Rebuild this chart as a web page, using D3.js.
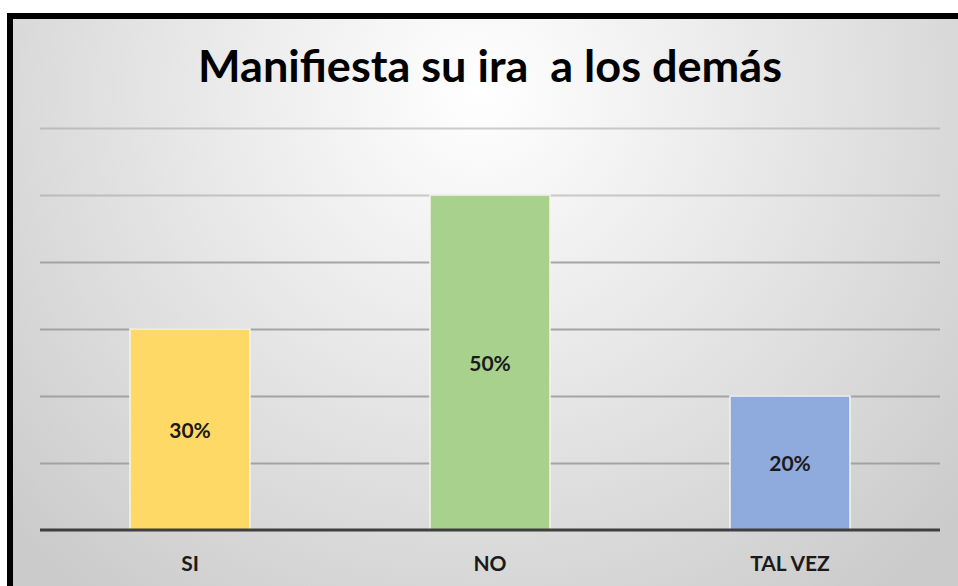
<!DOCTYPE html>
<html lang="es">
<head>
<meta charset="UTF-8">
<title>Manifiesta su ira a los demás</title>
<script src="https://cdn.jsdelivr.net/npm/d3@7"></script>
<style>
  body { margin: 0; background: #fff; }
  text { font-family: Lato, "Open Sans", sans-serif; font-weight: 700; }
</style>
</head>
<body>
<script>
  // datos
  const categories = ["SI", "NO", "TAL VEZ"];
  const values = [0.30, 0.50, 0.20];
  const colors = ["#FFD966", "#A9D18E", "#8FAADC"];
  const gridTicks = [0.1, 0.2, 0.3, 0.4, 0.5, 0.6];
  const title = "Manifiesta su ira  a los demás";

  const width = 958, height = 586;
  const marge = { top: 128, bottom: 56, left: 40, right: 18 };

  const svg = d3.select("body").append("svg")
    .attr("width", width)
    .attr("height", height);

  // fondo con degradado radial
  const defs = svg.append("defs");
  const grad = defs.append("radialGradient")
    .attr("id", "bg")
    .attr("gradientUnits", "userSpaceOnUse")
    .attr("cx", 480).attr("cy", 90).attr("r", 640);
  grad.append("stop").attr("offset", "0%").attr("stop-color", "#ffffff");
  grad.append("stop").attr("offset", "45%").attr("stop-color", "#e8e8e8");
  grad.append("stop").attr("offset", "100%").attr("stop-color", "#cbcbcb");

  svg.append("rect")
    .attr("x", 10).attr("y", 16)
    .attr("width", 980).attr("height", 620)
    .attr("fill", "url(#bg)")
    .attr("stroke", "#000")
    .attr("stroke-width", 6);

  const x = d3.scaleBand()
    .domain(categories)
    .range([marge.left, width - marge.right])
    .paddingInner(0.6)
    .paddingOuter(0.3);

  const y = d3.scaleLinear()
    .domain([0, 0.6])
    .range([height - marge.bottom, marge.top]);

  // líneas de cuadrícula
  svg.append("g")
    .selectAll("line")
    .data(gridTicks)
    .enter()
    .append("line")
    .attr("x1", marge.left)
    .attr("x2", width - marge.right)
    .attr("y1", d => Math.round(y(d)) + 0.5)
    .attr("y2", d => Math.round(y(d)) + 0.5)
    .attr("stroke", "#9c9c9c")
    .attr("stroke-opacity", d => d > 0.45 ? 0.5 : 0.9)
    .attr("stroke-width", 2);

  // barras
  svg.append("g")
    .selectAll("rect")
    .data(values)
    .enter()
    .append("rect")
    .attr("x", (d, i) => x(categories[i]))
    .attr("y", d => y(d))
    .attr("width", x.bandwidth())
    .attr("height", d => y(0) - y(d))
    .attr("fill", (d, i) => colors[i])
    .attr("stroke", "#f4f4f0")
    .attr("stroke-width", 1.5);

  // eje inferior
  svg.append("line")
    .attr("x1", marge.left)
    .attr("x2", width - marge.right)
    .attr("y1", y(0))
    .attr("y2", y(0))
    .attr("stroke", "#3f3f3f")
    .attr("stroke-width", 3);

  // etiquetas de valor
  svg.append("g")
    .selectAll("text")
    .data(values)
    .enter()
    .append("text")
    .attr("x", (d, i) => x(categories[i]) + x.bandwidth() / 2)
    .attr("y", d => (y(d) + y(0)) / 2 + 8)
    .attr("text-anchor", "middle")
    .attr("font-size", 21)
    .attr("font-weight", 900)
    .attr("fill", "#1a1a1a")
    .text(d => d3.format(".0%")(d));

  // categorías
  svg.append("g")
    .selectAll("text")
    .data(categories)
    .enter()
    .append("text")
    .attr("x", d => x(d) + x.bandwidth() / 2)
    .attr("y", y(0) + 41)
    .attr("text-anchor", "middle")
    .attr("font-size", 21)
    .attr("font-weight", 900)
    .attr("fill", "#1a1a1a")
    .text(d => d);

  // título
  svg.append("text")
    .attr("x", 490)
    .attr("y", 82)
    .attr("text-anchor", "middle")
    .attr("font-size", 44)
    .attr("fill", "#000")
    .attr("textLength", 584)
    .attr("lengthAdjust", "spacingAndGlyphs")
    .style("white-space", "pre")
    .text(title);
</script>
</body>
</html>
